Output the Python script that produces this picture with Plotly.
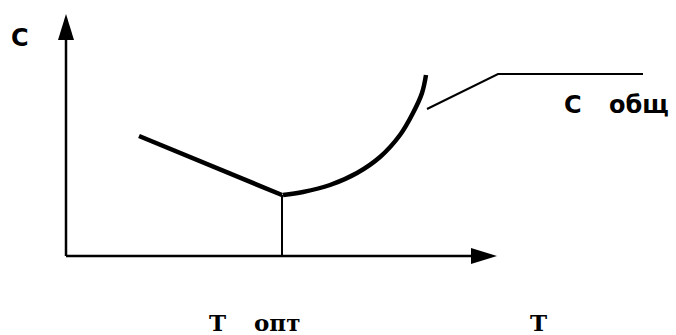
import plotly.graph_objects as go

# cost curve (x = T, y = C, origin at the axis corner)
line_t = [73, 216]
line_c = [120, 61]
curve_t = [217, 237, 264, 291, 314, 334, 347, 356, 360]
curve_c = [61, 64, 71, 83, 99, 121, 143, 163, 181]
t_opt = 216
leader_t = [361, 432, 577]
leader_c = [147, 182, 182]
axis_t_max = 431
axis_c_max = 242

SANS = dict(family="DejaVu Sans", size=24, color="black")
SERIF = dict(family="DejaVu Serif", size=23, color="black")


def arrow_path(x0, y0, dx, dy, length, half):
    # triangle tip at (x0, y0), pointing along (dx, dy)
    bx, by = x0 - dx * length, y0 - dy * length
    px, py = -dy * half, dx * half
    return f"M {x0},{y0} L {bx + px},{by + py} L {bx - px},{by - py} Z"


fig = go.Figure()

# linear part and curved part of C общ
fig.add_trace(go.Scatter(x=line_t, y=line_c, mode="lines",
                         line=dict(color="black", width=4.5)))
fig.add_trace(go.Scatter(x=curve_t, y=curve_c, mode="lines",
                         line=dict(color="black", width=4.5, shape="spline")))
# drop line at T опт
fig.add_trace(go.Scatter(x=[t_opt, t_opt], y=[0, line_c[-1]], mode="lines",
                         line=dict(color="black", width=2)))
# leader for the label
fig.add_trace(go.Scatter(x=leader_t, y=leader_c, mode="lines",
                         line=dict(color="black", width=2)))

# axes with arrows
fig.add_shape(type="line", x0=0, y0=0, x1=axis_t_max - 20, y1=0,
              line=dict(color="black", width=2.5))
fig.add_shape(type="line", x0=0, y0=0, x1=0, y1=axis_c_max - 20,
              line=dict(color="black", width=2.5))
fig.add_shape(type="path", path=arrow_path(axis_t_max, 0, 1, 0, 26, 8),
              fillcolor="black", line=dict(color="black", width=0))
fig.add_shape(type="path", path=arrow_path(0, axis_c_max, 0, 1, 26, 8),
              fillcolor="black", line=dict(color="black", width=0))

labels = [
    ("<b>C</b>", -57, 218, SANS),
    ("<b>C</b>", 496, 151, SANS),
    ("<b>общ</b>", 541, 151, SANS),
    ("<b>T</b>", 141, -66, SERIF),
    ("<b>опт</b>", 186, -66, SERIF),
    ("<b>T</b>", 462, -66, SERIF),
]
for text, x, y, font in labels:
    fig.add_annotation(x=x, y=y, text=text, showarrow=False,
                       xanchor="left", yanchor="middle", font=font)

fig.update_xaxes(range=[-66, 610], visible=False)
fig.update_yaxes(range=[-79, 256], visible=False)
fig.update_layout(
    width=676,
    height=335,
    margin=dict(l=0, r=0, t=0, b=0),
    plot_bgcolor="white",
    paper_bgcolor="white",
    showlegend=False,
)

fig.write_html("out.html", config={"displayModeBar": False},
               post_script="document.body.style.margin='0';")
